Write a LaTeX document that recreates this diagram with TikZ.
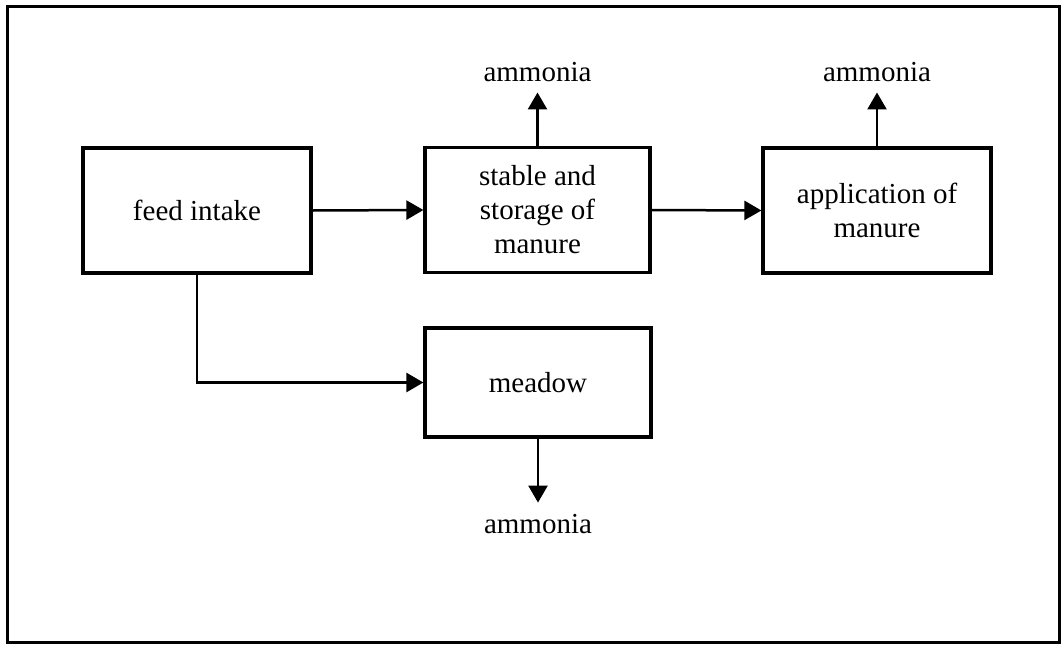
\documentclass[tikz,border=0pt]{standalone}
\usepackage{fontspec}
\setmainfont{Liberation Serif}
\usetikzlibrary{arrows.meta}
\begin{document}
\begin{tikzpicture}[x=1pt,y=-1pt,
  txt/.style={font=\fontsize{29}{34}\selectfont},
  box/.style={txt, draw, line width=3.2pt, minimum width=228pt, minimum height=125pt, inner sep=0pt, align=center},
  lbl/.style={txt, inner xsep=0pt, inner ysep=11pt, anchor=base},
  flow/.style={line width=2.5pt, -{Triangle[length=17pt,width=19pt]}}]
\useasboundingbox (0,0) rectangle (1062,645);
\draw[line width=3pt] (7,6) rectangle (1059,642);
\node[box] (feed) at (197,210.5) {feed intake};
\node[box, minimum width=225pt] (stable) at (537.5,210) {stable and\\storage of\\manure};
\node[box] (app) at (877,210.5) {application of\\manure};
\node[box, minimum width=226pt, minimum height=109pt] (meadow) at (538,382.5) {meadow};
\node[lbl] (am1) at (537.5,81) {ammonia};
\node[lbl] (am2) at (877,81) {ammonia};
\node[lbl] (am3) at (538,533) {ammonia};
\draw[flow] (feed.east) -- (stable.west);
\draw[flow] (stable.east) -- (app.west);
\draw[flow] (feed.south) |- (meadow.west);
\draw[flow] (stable.north) -- (stable.north |- am1.south);
\draw[flow] (app.north) -- (app.north |- am2.south);
\draw[flow] (meadow.south) -- (meadow.south |- am3.north);
\end{tikzpicture}
\end{document}
